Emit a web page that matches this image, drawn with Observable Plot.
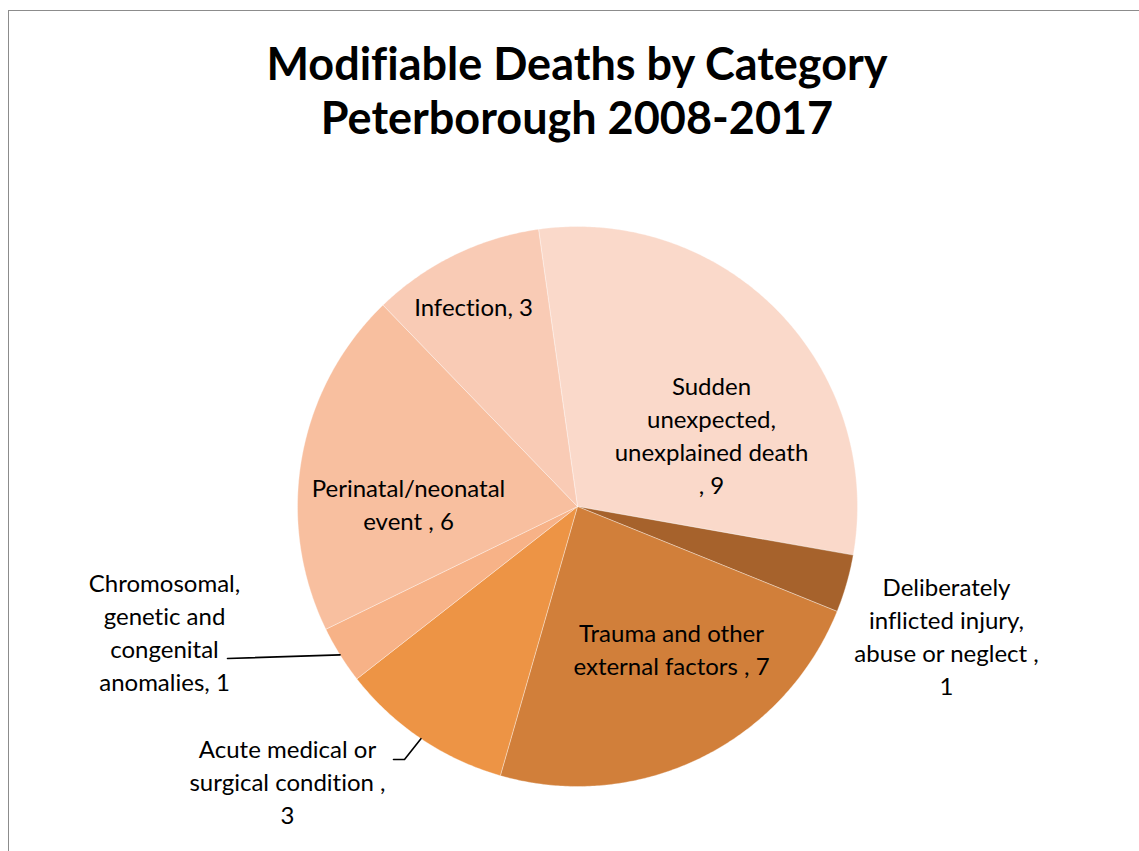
<!DOCTYPE html>
<html>
<head>
<meta charset="utf-8">
<script src="https://cdn.jsdelivr.net/npm/d3@7"></script>
<script src="https://cdn.jsdelivr.net/npm/@observablehq/plot@0.6"></script>
<style>
  html, body { margin: 0; padding: 0; background: #fff; overflow: hidden; width: 1139px; height: 851px; }
  #frame { position: absolute; left: 8px; top: 10px; width: 1300px; height: 1000px; border: 1.5px solid #8c8c8c; box-sizing: border-box; }
  #title { position: absolute; left: 0; top: 36px; width: 1154px; text-align: center; font-family: Lato, "Open Sans", sans-serif; font-weight: bold; font-size: 45px; line-height: 54px; color: #000; font-variant-ligatures: none; }
  #chart { position: absolute; left: 0; top: 160px; }
  #chart svg text { font-variant-ligatures: none; font-feature-settings: "liga" 0, "clig" 0; }
</style>
</head>
<body>
<div id="frame"></div>
<div id="title">Modifiable Deaths by Category<br>Peterborough 2008-2017</div>
<div id="chart"></div>
<script>
// ---- data ----
const categories = [
  "Sudden unexpected, unexplained death",
  "Deliberately inflicted injury, abuse or neglect",
  "Trauma and other external factors",
  "Acute medical or surgical condition",
  "Chromosomal, genetic and congenital anomalies",
  "Perinatal/neonatal event",
  "Infection"
];
const deaths = [9, 1, 7, 3, 1, 6, 3];
const labelTexts = [
  "Sudden\nunexpected,\nunexplained death\n, 9",
  "Deliberately\ninflicted injury,\nabuse or neglect ,\n1",
  "Trauma and other\nexternal factors , 7",
  "Acute medical or\nsurgical condition ,\n3",
  "Chromosomal,\ngenetic and\ncongenital\nanomalies, 1",
  "Perinatal/neonatal\nevent , 6",
  "Infection, 3"
];
const sliceColors = ["#FAD9CA", "#A6622C", "#D17F3A", "#ED9445", "#F7B287", "#F8BF9F", "#F9CBB5"];

// ---- layout (pixels relative to pie centre) ----
const W = 1139, H = 691;
const cx = 577, cy = 346;
const R = 280;
const startAngle = -8 * Math.PI / 180;
const labelPos = [ [134, -73], [369, 128], [94, 141], [-290, 274], [-413, 124], [-169, -4], [-104, -201] ];
const leaderTail = { 3: [[-184, 253], [-173, 253]], 4: [[-350, 152]] };

// ---- build geometry from data ----
const arcs = d3.pie().sort(null).startAngle(startAngle).endAngle(startAngle + 2 * Math.PI)(deaths);
const pts = [];
arcs.forEach((a, i) => {
  const cat = categories[i];
  pts.push({cat, x: 0, y: 0});
  const n = Math.max(4, Math.ceil((a.endAngle - a.startAngle) / (0.5 * Math.PI / 180)));
  for (let k = 0; k <= n; k++) {
    const t = a.startAngle + (a.endAngle - a.startAngle) * k / n;
    pts.push({cat, x: R * Math.sin(t), y: -R * Math.cos(t)});
  }
  pts.push({cat, x: 0, y: 0});
});

const labels = categories.map((c, i) => ({cat: c, text: labelTexts[i], x: labelPos[i][0], y: labelPos[i][1]}));

const leaders = [];
Object.entries(leaderTail).forEach(([i, tail]) => {
  const a = arcs[+i];
  const mid = (a.startAngle + a.endAngle) / 2;
  tail.forEach(p => leaders.push({cat: categories[i], x: p[0], y: p[1]}));
  leaders.push({cat: categories[i], x: R * Math.sin(mid), y: -R * Math.cos(mid)});
});

const chart = Plot.plot({
  width: W,
  height: H,
  margin: 0,
  x: {type: "linear", domain: [-cx, W - cx], range: [0, W], axis: null},
  y: {type: "linear", domain: [-cy, H - cy], range: [0, H], axis: null},
  color: {type: "ordinal", domain: categories, range: sliceColors},
  style: {background: "transparent", overflow: "visible"},
  marks: [
    Plot.line(pts, {x: "x", y: "y", z: "cat", fill: "cat", stroke: "#ffffff", strokeOpacity: 0.35, strokeWidth: 1, curve: "linear-closed"}),
    Plot.line(leaders, {x: "x", y: "y", z: "cat", stroke: "#000", strokeWidth: 1.6}),
    Plot.text(labels, {x: "x", y: "y", text: "text", fill: "#000", fontSize: 24, lineHeight: 1.375, fontFamily: "Lato, 'Open Sans', sans-serif", textAnchor: "middle"})
  ]
});
document.getElementById("chart").appendChild(chart);
</script>
</body>
</html>
